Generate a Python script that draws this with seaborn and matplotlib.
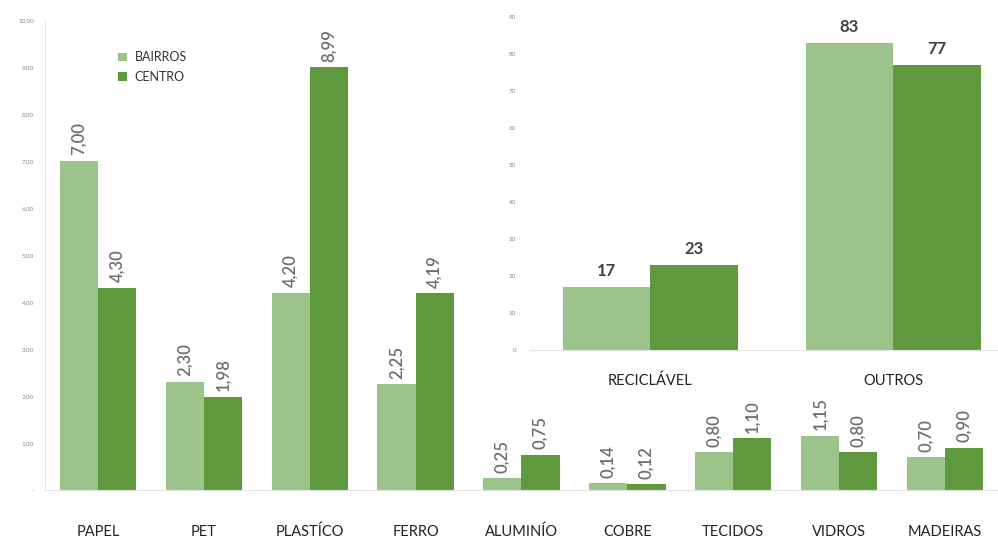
import matplotlib
matplotlib.use("Agg")
import matplotlib.pyplot as plt
import seaborn as sns
import pandas as pd
from matplotlib.patches import Patch

categories = ["PAPEL", "PET", "PLASTÍCO", "FERRO", "ALUMINÍO", "COBRE", "TECIDOS", "VIDROS", "MADEIRAS"]
bairros = [7.00, 2.30, 4.20, 2.25, 0.25, 0.14, 0.80, 1.15, 0.70]
centro = [4.30, 1.98, 8.99, 4.19, 0.75, 0.12, 1.10, 0.80, 0.90]

inset_categories = ["RECICLÁVEL", "OUTROS"]
inset_bairros = [17, 83]
inset_centro = [23, 77]

groups = ["BAIRROS", "CENTRO"]
main_yticks = [0, 1, 2, 3, 4, 5, 6, 7, 8, 9, 10]
inset_yticks = [0, 10, 20, 30, 40, 50, 60, 70, 80, 90]

LIGHT = "#9cc48a"
DARK = "#5e9a3d"

sns.set_theme(style="white")
plt.rcParams["font.family"] = ["Lato", "DejaVu Sans"]

df = pd.DataFrame({
    "cat": categories * 2,
    "val": bairros + centro,
    "grupo": [groups[0]] * len(categories) + [groups[1]] * len(categories),
})
df2 = pd.DataFrame({
    "cat": inset_categories * 2,
    "val": inset_bairros + inset_centro,
    "grupo": [groups[0]] * len(inset_categories) + [groups[1]] * len(inset_categories),
})

fig = plt.figure(figsize=(9.98, 5.41), dpi=100)
W, H = 998, 541

# main axes
ax = fig.add_axes([45 / W, (H - 490) / H, (998 - 45) / W, (490 - 20) / H])
sns.barplot(data=df, x="cat", y="val", hue="grupo", palette=[LIGHT, DARK],
            width=0.72, saturation=1, linewidth=0, ax=ax, legend=False)
ax.set_ylim(0, 10)
ax.set_xlim(-0.5, 8.5)
ax.set_yticks(main_yticks)
ax.set_yticklabels(["-"] + [f"{v:.2f}".replace(".", ",") for v in main_yticks[1:]],
                   fontsize=4.5, color="#888888")
ax.set_xlabel("")
ax.set_ylabel("")
ax.tick_params(axis="x", length=0, pad=25, labelsize=10.5, labelcolor="#222222")
ax.tick_params(axis="y", length=0, pad=8)
for s in ["top", "right"]:
    ax.spines[s].set_visible(False)
for s in ["left", "bottom"]:
    ax.spines[s].set_color("#e4e4e4")
    ax.spines[s].set_linewidth(0.8)
ax.patch.set_alpha(0)

for cont, vals in zip(ax.containers, [bairros, centro]):
    ax.bar_label(cont, labels=[f"{v:.2f}".replace(".", ",") for v in vals],
                 rotation=90, padding=4, fontsize=12, fontweight="semibold",
                 color="#6e6e6e")

handles = [Patch(facecolor=LIGHT, edgecolor="none"), Patch(facecolor=DARK, edgecolor="none")]
ax.legend(handles, groups, loc="upper left", bbox_to_anchor=(62 / 953, 1 - 20 / 470),
          frameon=False, fontsize=9, handlelength=0.7, handleheight=0.7,
          handletextpad=0.6, labelspacing=0.6, labelcolor="#333333")

# inset axes
iax = fig.add_axes([530 / W, (H - 350) / H, (998 - 530) / W, (350 - 17) / H])
sns.barplot(data=df2, x="cat", y="val", hue="grupo", palette=[LIGHT, DARK],
            width=0.72, saturation=1, linewidth=0, ax=iax, legend=False)
iax.set_ylim(0, 90)
iax.set_xlim(-0.494, 1.432)
iax.set_yticks(inset_yticks)
iax.set_yticklabels([str(v) for v in inset_yticks], fontsize=4.5, color="#888888")
iax.set_xlabel("")
iax.set_ylabel("")
iax.tick_params(axis="x", length=0, pad=17, labelsize=10.5, labelcolor="#222222")
iax.tick_params(axis="y", length=0, pad=10)
for s in ["top", "right", "left"]:
    iax.spines[s].set_visible(False)
iax.spines["bottom"].set_color("#e4e4e4")
iax.spines["bottom"].set_linewidth(0.8)
iax.patch.set_alpha(0)

for cont, vals in zip(iax.containers, [inset_bairros, inset_centro]):
    iax.bar_label(cont, labels=[str(v) for v in vals], padding=6, fontsize=12,
                  fontweight="bold", color="#404040")

fig.savefig("out.png", dpi=100)
